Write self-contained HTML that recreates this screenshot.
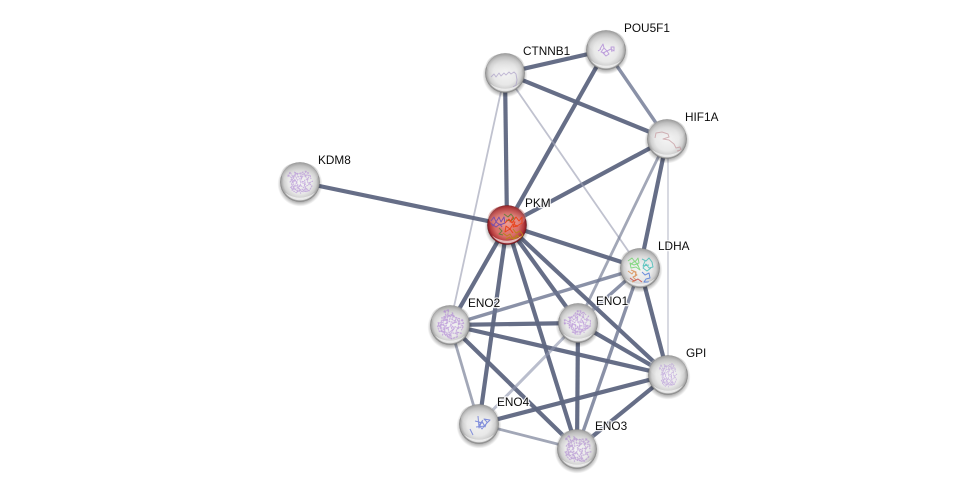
<!DOCTYPE html>
<html>
<head>
<meta charset="utf-8">
<style>
html,body{margin:0;padding:0;background:#fff;width:975px;height:493px;overflow:hidden}
svg{display:block}
text{font-family:"Liberation Sans",sans-serif;font-size:11.8px;fill:#0c0c0c;paint-order:stroke;stroke:rgba(255,255,255,.85);stroke-width:2.5px;stroke-linejoin:round}
.a{stroke:#5e6681;stroke-width:4.2;stroke-opacity:.95}
.b{stroke:#6d7591;stroke-width:3.4;stroke-opacity:.8}
.c{stroke:#7a8299;stroke-width:2.8;stroke-opacity:.7}
.d{stroke:#8c92ab;stroke-width:3;stroke-opacity:.6}
.e{stroke:#9ea2b5;stroke-width:1.8;stroke-opacity:.65}
.s{fill:none;stroke-width:1;stroke-linejoin:round}
.p{filter:url(#soft)}
.q{filter:url(#soft);opacity:.62}
</style>
</head>
<body>
<svg width="975" height="493" viewBox="0 0 975 493" xmlns="http://www.w3.org/2000/svg">
<defs>
<filter id="soft" x="-20%" y="-20%" width="140%" height="140%"><feGaussianBlur stdDeviation=".35"/></filter>
<radialGradient id="g" cx="50%" cy="50%" r="50%">
<stop offset="0" stop-color="#f4f4f4"/>
<stop offset=".6" stop-color="#e8e8e8"/>
<stop offset=".82" stop-color="#cfcfcf"/>
<stop offset=".95" stop-color="#a4a4a4"/>
<stop offset="1" stop-color="#727272"/>
</radialGradient>
<radialGradient id="r" cx="50%" cy="50%" r="50%">
<stop offset="0" stop-color="#e98e84"/>
<stop offset=".6" stop-color="#d96e68"/>
<stop offset=".85" stop-color="#b53a3c"/>
<stop offset=".95" stop-color="#8c2028"/>
<stop offset="1" stop-color="#5a181c"/>
</radialGradient>
<linearGradient id="h" x1="0" y1="0" x2="0" y2="1">
<stop offset="0" stop-color="#a0a0a0" stop-opacity=".6"/>
<stop offset=".5" stop-color="#d8d8d8" stop-opacity=".35"/>
<stop offset="1" stop-color="#fff" stop-opacity="0"/>
</linearGradient>
<linearGradient id="hr" x1="0" y1="0" x2="0" y2="1">
<stop offset="0" stop-color="#a33" stop-opacity=".5"/>
<stop offset=".6" stop-color="#eeb0a8" stop-opacity=".4"/>
<stop offset="1" stop-color="#fff" stop-opacity="0"/>
</linearGradient>
<radialGradient id="sh" cx="50%" cy="50%" r="50%">
<stop offset=".78" stop-color="#000" stop-opacity=".34"/>
<stop offset="1" stop-color="#000" stop-opacity="0"/>
</radialGradient>
<g id="ball">
<circle cx="0" cy="2" r="22.5" fill="url(#sh)"/>
<circle r="19.8" fill="url(#g)"/>
<ellipse cx="0" cy="-8" rx="18.8" ry="11.5" fill="url(#h)"/>
</g>
<g id="ballr">
<circle cx="0" cy="2" r="22.5" fill="url(#sh)"/>
<circle r="19.8" fill="url(#r)"/>
<ellipse cx="0" cy="-8" rx="18.8" ry="11.5" fill="url(#hr)"/>
</g>
<g id="gl">
<path d="M-15 10.5 A18.4 18.4 0 0 0 15 10.5 A24 24 0 0 1 -15 10.5Z" fill="#fff" fill-opacity=".65"/>
</g>
<path id="p1" class="s" stroke-dasharray="2.2 .6" d="M-12 -7l4 3 -2 4 5 -2 3 5 -5 2 4 4 3 -6 4 3 1 -6 -5 -1 3 -5 -5 1 -1 -4 -4 4 -3 -5 -2 5zM-10 5l5 3 3 -3 4 5 4 -4 3 3 3 -5 -3 -3 4 -2M-6 -10l5 2 4 -2 2 4 5 -1 1 4M-3 10l5 -3 4 3 3 -2"/>
<g id="dense">
<use href="#p1"/>
<use href="#p1" transform="rotate(90) scale(.9)"/>
</g>
</defs>

<g fill="none" stroke-linecap="butt">
<line class="a" x1="505" y1="73" x2="507" y2="225"/>
<line class="a" x1="606" y1="50" x2="507" y2="225"/>
<line class="a" x1="667" y1="139" x2="507" y2="225"/>
<line class="a" x1="505" y1="73" x2="606" y2="50"/>
<line class="a" x1="505" y1="73" x2="667" y2="139"/>
<line class="b" x1="606" y1="50" x2="667" y2="139"/>
<line class="e" x1="505" y1="73" x2="450" y2="325"/>
<line class="e" x1="505" y1="73" x2="640" y2="268"/>
<line class="a" x1="667" y1="139" x2="640" y2="268"/>
<line class="e" x1="668" y1="139" x2="668" y2="375" style="stroke-width:1.6;stroke-opacity:.5"/>
<line class="c" x1="667" y1="139" x2="578" y2="323"/>
<line class="a" x1="300" y1="182" x2="507" y2="225"/>
<line class="a" x1="507" y1="225" x2="640" y2="268"/>
<line class="a" x1="507" y1="225" x2="450" y2="325"/>
<line class="a" x1="507" y1="225" x2="479" y2="424"/>
<line class="a" x1="507" y1="225" x2="577" y2="449"/>
<line class="a" x1="507" y1="225" x2="578" y2="323"/>
<line class="a" x1="507" y1="225" x2="668" y2="375"/>
<line class="b" x1="640" y1="268" x2="450" y2="325"/>
<line class="b" x1="640" y1="268" x2="578" y2="323"/>
<line class="a" x1="640" y1="268" x2="668" y2="375"/>
<line class="b" x1="640" y1="268" x2="577" y2="449"/>
<line class="a" x1="450" y1="325" x2="578" y2="323"/>
<line class="a" x1="450" y1="325" x2="668" y2="375"/>
<line class="a" x1="450" y1="325" x2="577" y2="449"/>
<line class="c" x1="450" y1="325" x2="479" y2="424"/>
<line class="a" x1="578" y1="323" x2="668" y2="375"/>
<line class="a" x1="578" y1="323" x2="577" y2="449"/>
<line class="d" x1="578" y1="323" x2="479" y2="424"/>
<line class="a" x1="479" y1="424" x2="668" y2="375"/>
<line class="c" x1="479" y1="424" x2="577" y2="449"/>
<line class="a" x1="668" y1="375" x2="577" y2="449"/>
</g>

<!-- CTNNB1 -->
<g transform="translate(505,73)"><use href="#ball"/>
<path class="s q" stroke="#a598c4" d="M-14 4l3 -3 2 3 3 -4 2 3 3 -3 2 2 3 -3 2 2 3 -2 2 2 1 6 -1 5 -3 2"/>
<use href="#gl"/></g>
<!-- POU5F1 -->
<g transform="translate(606,50)"><use href="#ball"/>
<g class="q" stroke="#a070d0"><path class="s" stroke-width="1.6" d="M-6 -1l3 -5 1 4 3 3 -4 2 3 3 3 -2 -2 -3 4 -2 3 2 0 -4 -3 0 1 5M-8 1l3 -2M-2 -2l-3 4 4 1"/></g>
<use href="#gl"/></g>
<!-- HIF1A -->
<g transform="translate(667,139)"><use href="#ball"/>
<path class="s q" stroke="#c08e94" d="M-12 -1l1 -5 6 -1 6 2 1 3 -6 2 6 1 5 4 2 4 4 -1 1 3 -4 1"/>
<use href="#gl"/></g>
<!-- KDM8 -->
<g transform="translate(300,182)"><use href="#ball"/>
<g class="q" stroke="#b088d6"><use href="#dense"/></g>
<use href="#gl"/></g>
<!-- PKM -->
<g transform="translate(507,225)"><use href="#ballr"/>
<g class="p">
<path class="s" stroke="#7a4fa8" stroke-width="1.8" d="M-16 -4l3 -4 2 5 3 -5 2 5 3 -5 1 6 -5 2 -4 -3 -3 4 -2 -3M-15 -1l4 3 4 -3 2 3"/>
<path class="s" stroke="#6a8040" stroke-width="1.5" d="M-3 -11l4 3 3 -3 3 4 -3 3 -5 -1M-8 3l3 3 -3 3 4 1"/>
<path class="s" stroke="#e8431a" stroke-width="1.9" d="M-2 -2l4 -4 3 4 4 -6 3 4 3 -4 0 6 -5 3 -4 -2 -3 5 -4 -3 -1 6 5 -3 3 4M6 -8l-3 5 5 0 -2 5 5 -1"/>
<path class="s" stroke="#bb801f" stroke-width="1.6" d="M-4 8l4 3 3 -2 3 5 4 -4 3 3 3 -3 -3 -4 -4 2 -3 -4M-1 14l4 -2M3 13l5 1 3 -3"/>
</g>
<use href="#gl"/></g>
<!-- LDHA -->
<g transform="translate(640,268)"><use href="#ball"/>
<g class="q" style="opacity:.8">
<path class="s" stroke="#6fd36c" stroke-width="1.8" d="M-12 -7l4 -3 3 4 3 -4 1 5 -5 2 -4 -2 1 5 5 -1 4 3 -3 -7M-10 -3l5 -4 3 5"/>
<path class="s" stroke="#3fbcb6" stroke-width="1.8" d="M2 -9l4 2 3 -3 3 4 1 5 -4 1 -3 -4 -3 4 4 3 4 -3M5 -7l-2 5 6 -1"/>
<path class="s" stroke="#d98a4c" stroke-width="1.7" d="M-12 3l4 3 2 -3 3 4 -4 2 3 3 -4 2M-9 2l5 2 -1 5"/>
<path class="s" stroke="#c8433c" stroke-width="1.3" d="M-10 10l4 3 4 -2 4 3"/>
<path class="s" stroke="#4d78d8" stroke-width="1.5" d="M2 4l3 3 4 -2 1 5 -4 1 -2 3 5 0"/>
</g>
<use href="#gl"/></g>
<!-- ENO1 -->
<g transform="translate(578,323)"><use href="#ball"/>
<g class="q" stroke="#a878d2" transform="rotate(-30)"><use href="#dense"/></g>
<use href="#gl"/></g>
<!-- ENO2 -->
<g transform="translate(450,325)"><use href="#ball"/>
<g class="q" stroke="#a878d2" transform="rotate(40) scale(1.1)"><use href="#dense"/></g>
<use href="#gl"/></g>
<!-- GPI -->
<g transform="translate(668,375)"><use href="#ball"/>
<g class="q" stroke="#b494d8" transform="scale(.7,1.05)"><use href="#dense"/></g>
<use href="#gl"/></g>
<!-- ENO4 -->
<g transform="translate(479,424)"><use href="#ball"/>
<g class="q" style="opacity:.85"><path class="s" stroke="#6f7fd8" stroke-width="1.2" d="M-9 5l3 6M-1 -8l1 12 3 -7 3 6 2 -5 -3 -3 6 1 -5 5 -3 4 -3 -4 4 -5M-4 -3l8 2M-3 3l9 -1"/></g>
<use href="#gl"/></g>
<!-- ENO3 -->
<g transform="translate(577,449)"><use href="#ball"/>
<g class="q" stroke="#a880cc" transform="rotate(15) scale(1.12)"><use href="#dense"/></g>
<use href="#gl"/></g>

<text x="523" y="55">CTNNB1</text>
<text x="624" y="32">POU5F1</text>
<text x="685" y="121">HIF1A</text>
<text x="318" y="164">KDM8</text>
<text x="525" y="207">PKM</text>
<text x="658" y="250">LDHA</text>
<text x="596" y="305">ENO1</text>
<text x="468" y="307">ENO2</text>
<text x="686" y="357">GPI</text>
<text x="497" y="406">ENO4</text>
<text x="595" y="430">ENO3</text>
</svg>
</body>
</html>
